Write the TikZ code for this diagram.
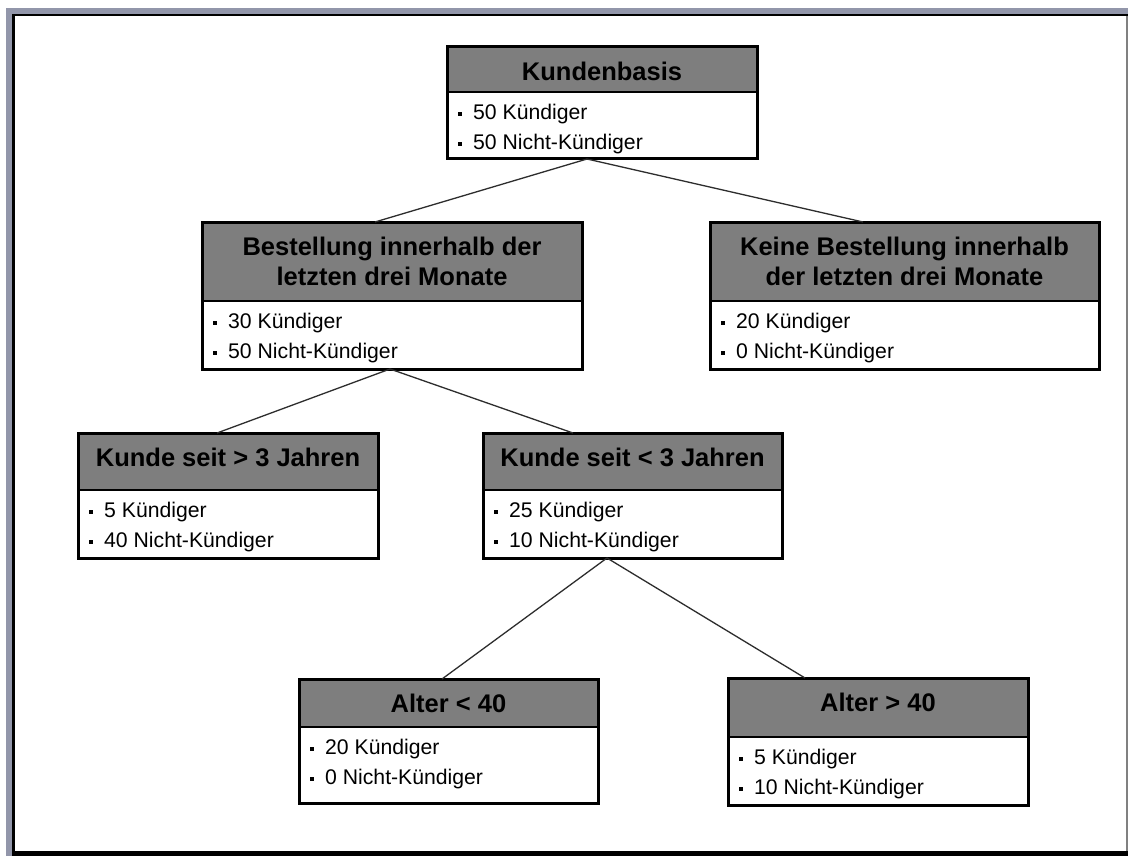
\documentclass[tikz,border=0pt]{standalone}
\usepackage{fontspec}
\setmainfont{Liberation Sans}
\definecolor{headgray}{RGB}{126,126,126}
\definecolor{winband}{RGB}{146,150,170}
\definecolor{linkgray}{RGB}{45,45,45}
% small square bullet in front of each count
\newcommand\bul{\makebox[26pt][l]{\hspace{11pt}\rule[3.5pt]{4pt}{4pt}}}
\begin{document}
\begin{tikzpicture}[x=1pt,y=-1pt,
  frame/.style={draw=black, line width=3pt, inner sep=0pt, outer sep=0pt, anchor=north west},
  headtext/.style={font=\fontsize{25.5}{30}\selectfont\bfseries, align=center, inner sep=0pt, anchor=north},
  bodytext/.style={font=\fontsize{21.2}{30}\selectfont, align=left, inner sep=0pt, anchor=north west},
  link/.style={draw=linkgray, line width=1.3pt},
]
\useasboundingbox (0,0) rectangle (1128,856);
\fill[white] (0,0) rectangle (1128,856);
% window border
\fill[winband] (6,8) rectangle (1128,14);
\fill[winband] (6,8) rectangle (12,856);
\fill[black] (12,14) rectangle (1128,16.5);
\fill[black] (12,14) rectangle (15,856);
\fill[black] (12,851) rectangle (1128,856);
\fill[gray] (1126,16) rectangle (1127.5,851);

% box: name, left, top, right, header bottom, bottom, title, line 1, line 2
\newcommand\kbox[9]{%
  \fill[headgray] (#2,#3) rectangle (#4,#5);
  \draw[line width=2pt] (#2,#5) -- (#4,#5);
  \pgfmathsetmacro\bw{#4-#2}\pgfmathsetmacro\bh{#6-#3}
  \node[frame, minimum width=\bw pt, minimum height=\bh pt] (#1) at (#2,#3) {};
  \node[headtext] (#1-h) at ({(#2+#4)/2},#3+13.6) {\rule{0pt}{20pt}#7};
  \node[bodytext] (#1-b) at (#2,#5+10) {\rule{0pt}{17pt}\bul #8\\\bul #9};
}

\kbox{k0}{447}{47}{757}{92}{159}{Kundenbasis}{50 Kündiger}{50 Nicht-Kündiger}
\kbox{k1}{202}{222}{582}{301}{369}{Bestellung innerhalb der\\letzten drei Monate}{30 Kündiger}{50 Nicht-Kündiger}
\kbox{k2}{710}{222}{1099}{301}{369}{Keine Bestellung innerhalb\\der letzten drei Monate}{20 Kündiger}{0 Nicht-Kündiger}
\kbox{k3}{78}{433}{378}{490}{558}{Kunde seit > 3 Jahren}{5 Kündiger}{40 Nicht-Kündiger}
\kbox{k4}{483}{433}{782}{490}{558}{Kunde seit < 3 Jahren}{25 Kündiger}{10 Nicht-Kündiger}
\kbox{k5}{299}{679}{598}{727}{803}{Alter < 40}{20 Kündiger}{0 Nicht-Kündiger}
\kbox{k6}{728}{678}{1028}{737}{805}{Alter > 40}{5 Kündiger}{10 Nicht-Kündiger}

% branches
\draw[link] ([xshift=140pt]k0.south west) -- ([xshift=173pt]k1.north west);
\draw[link] ([xshift=140pt]k0.south west) -- ([xshift=153pt]k2.north west);
\draw[link] ([xshift=188pt]k1.south west) -- ([xshift=139pt]k3.north west);
\draw[link] ([xshift=188pt]k1.south west) -- ([xshift=90pt]k4.north west);
\draw[link] ([xshift=124pt]k4.south west) -- ([xshift=143pt]k5.north west);
\draw[link] ([xshift=124pt]k4.south west) -- ([xshift=77pt]k6.north west);
\end{tikzpicture}
\end{document}
